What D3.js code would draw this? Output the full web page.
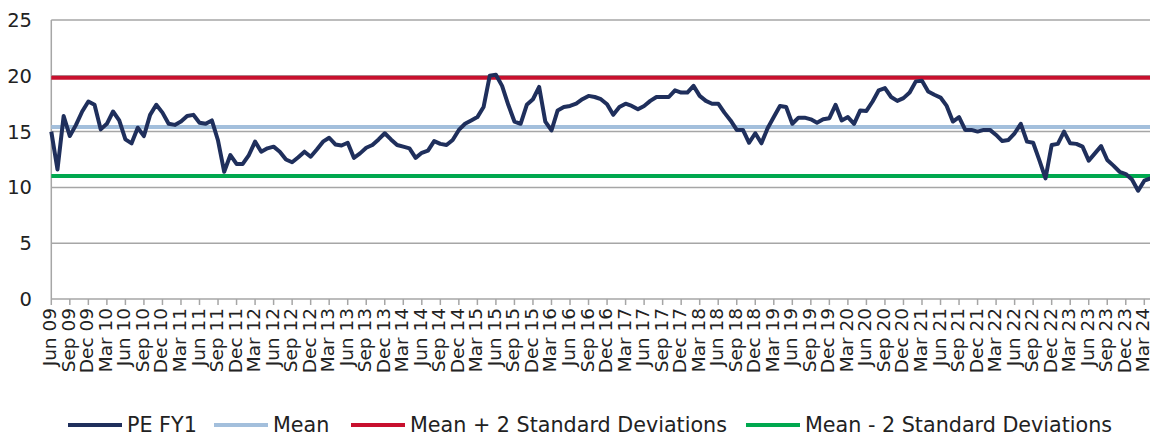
<!DOCTYPE html>
<html>
<head>
<meta charset="utf-8">
<script src="https://cdn.jsdelivr.net/npm/d3@7"></script>
<style>
  html, body { margin: 0; padding: 0; background: #fff; }
  svg { display: block; font-family: "DejaVu Sans", sans-serif; }
</style>
</head>
<body>
<svg id="chart" width="1150" height="436"></svg>
<script>
// Monthly forward P/E (FY1), Jun 2009 onwards
const peFY1 = [
  15.0, 11.6, 16.4, 14.6, 15.6, 16.8, 17.7, 17.4, 15.2, 15.7, 16.8, 16.0,
  14.3, 13.95, 15.35, 14.6, 16.5, 17.4, 16.7, 15.7, 15.6, 15.9, 16.4, 16.5,
  15.8, 15.7, 16.0, 14.2, 11.4, 12.9, 12.1, 12.1, 12.9, 14.1, 13.2, 13.5,
  13.65, 13.2, 12.5, 12.25, 12.7, 13.2, 12.75, 13.4, 14.1, 14.45, 13.85, 13.75,
  14.0, 12.65, 13.05, 13.55, 13.8, 14.3, 14.85, 14.3, 13.8, 13.65, 13.5, 12.65,
  13.1, 13.3, 14.15, 13.9, 13.8, 14.25, 15.15, 15.7, 16.0, 16.3, 17.2, 20.0,
  20.1, 19.1, 17.4, 15.9, 15.7, 17.4, 17.9, 19.0, 15.9, 15.1, 16.9, 17.2,
  17.3, 17.5, 17.9, 18.2, 18.1, 17.9, 17.45, 16.5, 17.2, 17.5, 17.3, 17.0,
  17.3, 17.75, 18.1, 18.1, 18.1, 18.7, 18.5, 18.5, 19.1, 18.2, 17.75, 17.5,
  17.5, 16.7, 16.0, 15.15, 15.15, 14.0, 14.85, 13.95, 15.3, 16.3, 17.3, 17.2,
  15.7, 16.25, 16.25, 16.1, 15.8, 16.1, 16.2, 17.4, 16.0, 16.3, 15.7, 16.9,
  16.85, 17.7, 18.7, 18.9, 18.1, 17.75, 18.0, 18.5, 19.5, 19.55, 18.6, 18.3,
  18.05, 17.3, 15.9, 16.3, 15.15, 15.15, 15.0, 15.15, 15.15, 14.7, 14.15, 14.25,
  14.85, 15.7, 14.1, 14.0, 12.45, 10.8, 13.8, 13.9, 15.0, 13.95, 13.9, 13.65,
  12.4, 13.05, 13.7, 12.45, 11.95, 11.4, 11.2, 10.7, 9.7, 10.6, 10.8
];

// Reference levels
const meanPE = 15.42;
const stdDevPE = 2.2;

// Quarterly axis labels (every third month)
const tickLabels = [
  "Jun 09","Sep 09","Dec 09","Mar 10","Jun 10","Sep 10","Dec 10","Mar 11","Jun 11","Sep 11","Dec 11",
  "Mar 12","Jun 12","Sep 12","Dec 12","Mar 13","Jun 13","Sep 13","Dec 13","Mar 14","Jun 14","Sep 14",
  "Dec 14","Mar 15","Jun 15","Sep 15","Dec 15","Mar 16","Jun 16","Sep 16","Dec 16","Mar 17","Jun 17",
  "Sep 17","Dec 17","Mar 18","Jun 18","Sep 18","Dec 18","Mar 19","Jun 19","Sep 19","Dec 19","Mar 20",
  "Jun 20","Sep 20","Dec 20","Mar 21","Jun 21","Sep 21","Dec 21","Mar 22","Jun 22","Sep 22","Dec 22",
  "Mar 23","Jun 23","Sep 23","Dec 23","Mar 24"
];
const yTicks = [0, 5, 10, 15, 20, 25];

const seriesNames = ["PE FY1", "Mean", "Mean + 2 Standard Deviations", "Mean - 2 Standard Deviations"];
const seriesColors = ["#1f2f5c", "#a3bfdc", "#c8102e", "#00a84f"];

const svg = d3.select("#chart");
const plotLeft = 51.3, plotRight = 1150, plotTop = 20, plotBottom = 299;

const lastLabelIdx = (tickLabels.length - 1) * 3;
const x = d3.scaleLinear().domain([0, lastLabelIdx]).range([plotLeft, 1144.3]);
const y = d3.scaleLinear().domain([0, 25]).range([plotBottom, plotTop]);

// Horizontal gridlines
svg.append("g").selectAll("line").data(yTicks).join("line")
  .attr("x1", plotLeft).attr("x2", plotRight)
  .attr("y1", d => y(d)).attr("y2", d => y(d))
  .attr("stroke", "#a6a6a6").attr("stroke-width", 1.5);

// Y axis line
svg.append("line")
  .attr("x1", plotLeft).attr("x2", plotLeft)
  .attr("y1", y(25)).attr("y2", y(0))
  .attr("stroke", "#a6a6a6").attr("stroke-width", 1.5);

// Y labels
svg.append("g").selectAll("text").data(yTicks).join("text")
  .attr("x", 32).attr("y", d => y(d))
  .attr("dy", "0.36em")
  .attr("text-anchor", "end")
  .attr("font-size", 19.5)
  .attr("fill", "#222")
  .text(d => d);

// X tick marks and rotated quarter labels
const xAxis = svg.append("g");
xAxis.selectAll("line").data(tickLabels).join("line")
  .attr("x1", (d, i) => x(i * 3)).attr("x2", (d, i) => x(i * 3))
  .attr("y1", plotBottom).attr("y2", plotBottom + 6)
  .attr("stroke", "#a6a6a6").attr("stroke-width", 1.5);
xAxis.selectAll("text").data(tickLabels).join("text")
  .attr("transform", (d, i) => `translate(${x(i * 3)},${plotBottom + 9}) rotate(-90)`)
  .attr("text-anchor", "end")
  .attr("dy", "0.27em")
  .attr("font-size", 18.5)
  .attr("fill", "#222")
  .text(d => d);

// Reference lines
const refLevels = [meanPE, meanPE + 2 * stdDevPE, meanPE - 2 * stdDevPE];
svg.append("g").selectAll("line").data(refLevels).join("line")
  .attr("x1", plotLeft).attr("x2", plotRight)
  .attr("y1", d => y(d)).attr("y2", d => y(d))
  .attr("stroke", (d, i) => seriesColors[i + 1])
  .attr("stroke-width", 4);

// PE line
const line = d3.line().x((d, i) => x(i)).y(d => y(d));
svg.append("path")
  .datum(peFY1)
  .attr("d", line)
  .attr("fill", "none")
  .attr("stroke", seriesColors[0])
  .attr("stroke-width", 4)
  .attr("stroke-linejoin", "round");

// Legend
const legendX = [68, 214, 351, 746];
const legend = svg.append("g").selectAll("g").data(seriesNames).join("g")
  .attr("transform", (d, i) => `translate(${legendX[i]},425)`);
legend.append("line")
  .attr("x1", 0).attr("x2", 54).attr("y1", 0).attr("y2", 0)
  .attr("stroke", (d, i) => seriesColors[i]).attr("stroke-width", 4);
legend.append("text")
  .attr("x", 59).attr("dy", "0.36em")
  .attr("font-size", 20.7).attr("fill", "#222")
  .text(d => d);
</script>
</body>
</html>
